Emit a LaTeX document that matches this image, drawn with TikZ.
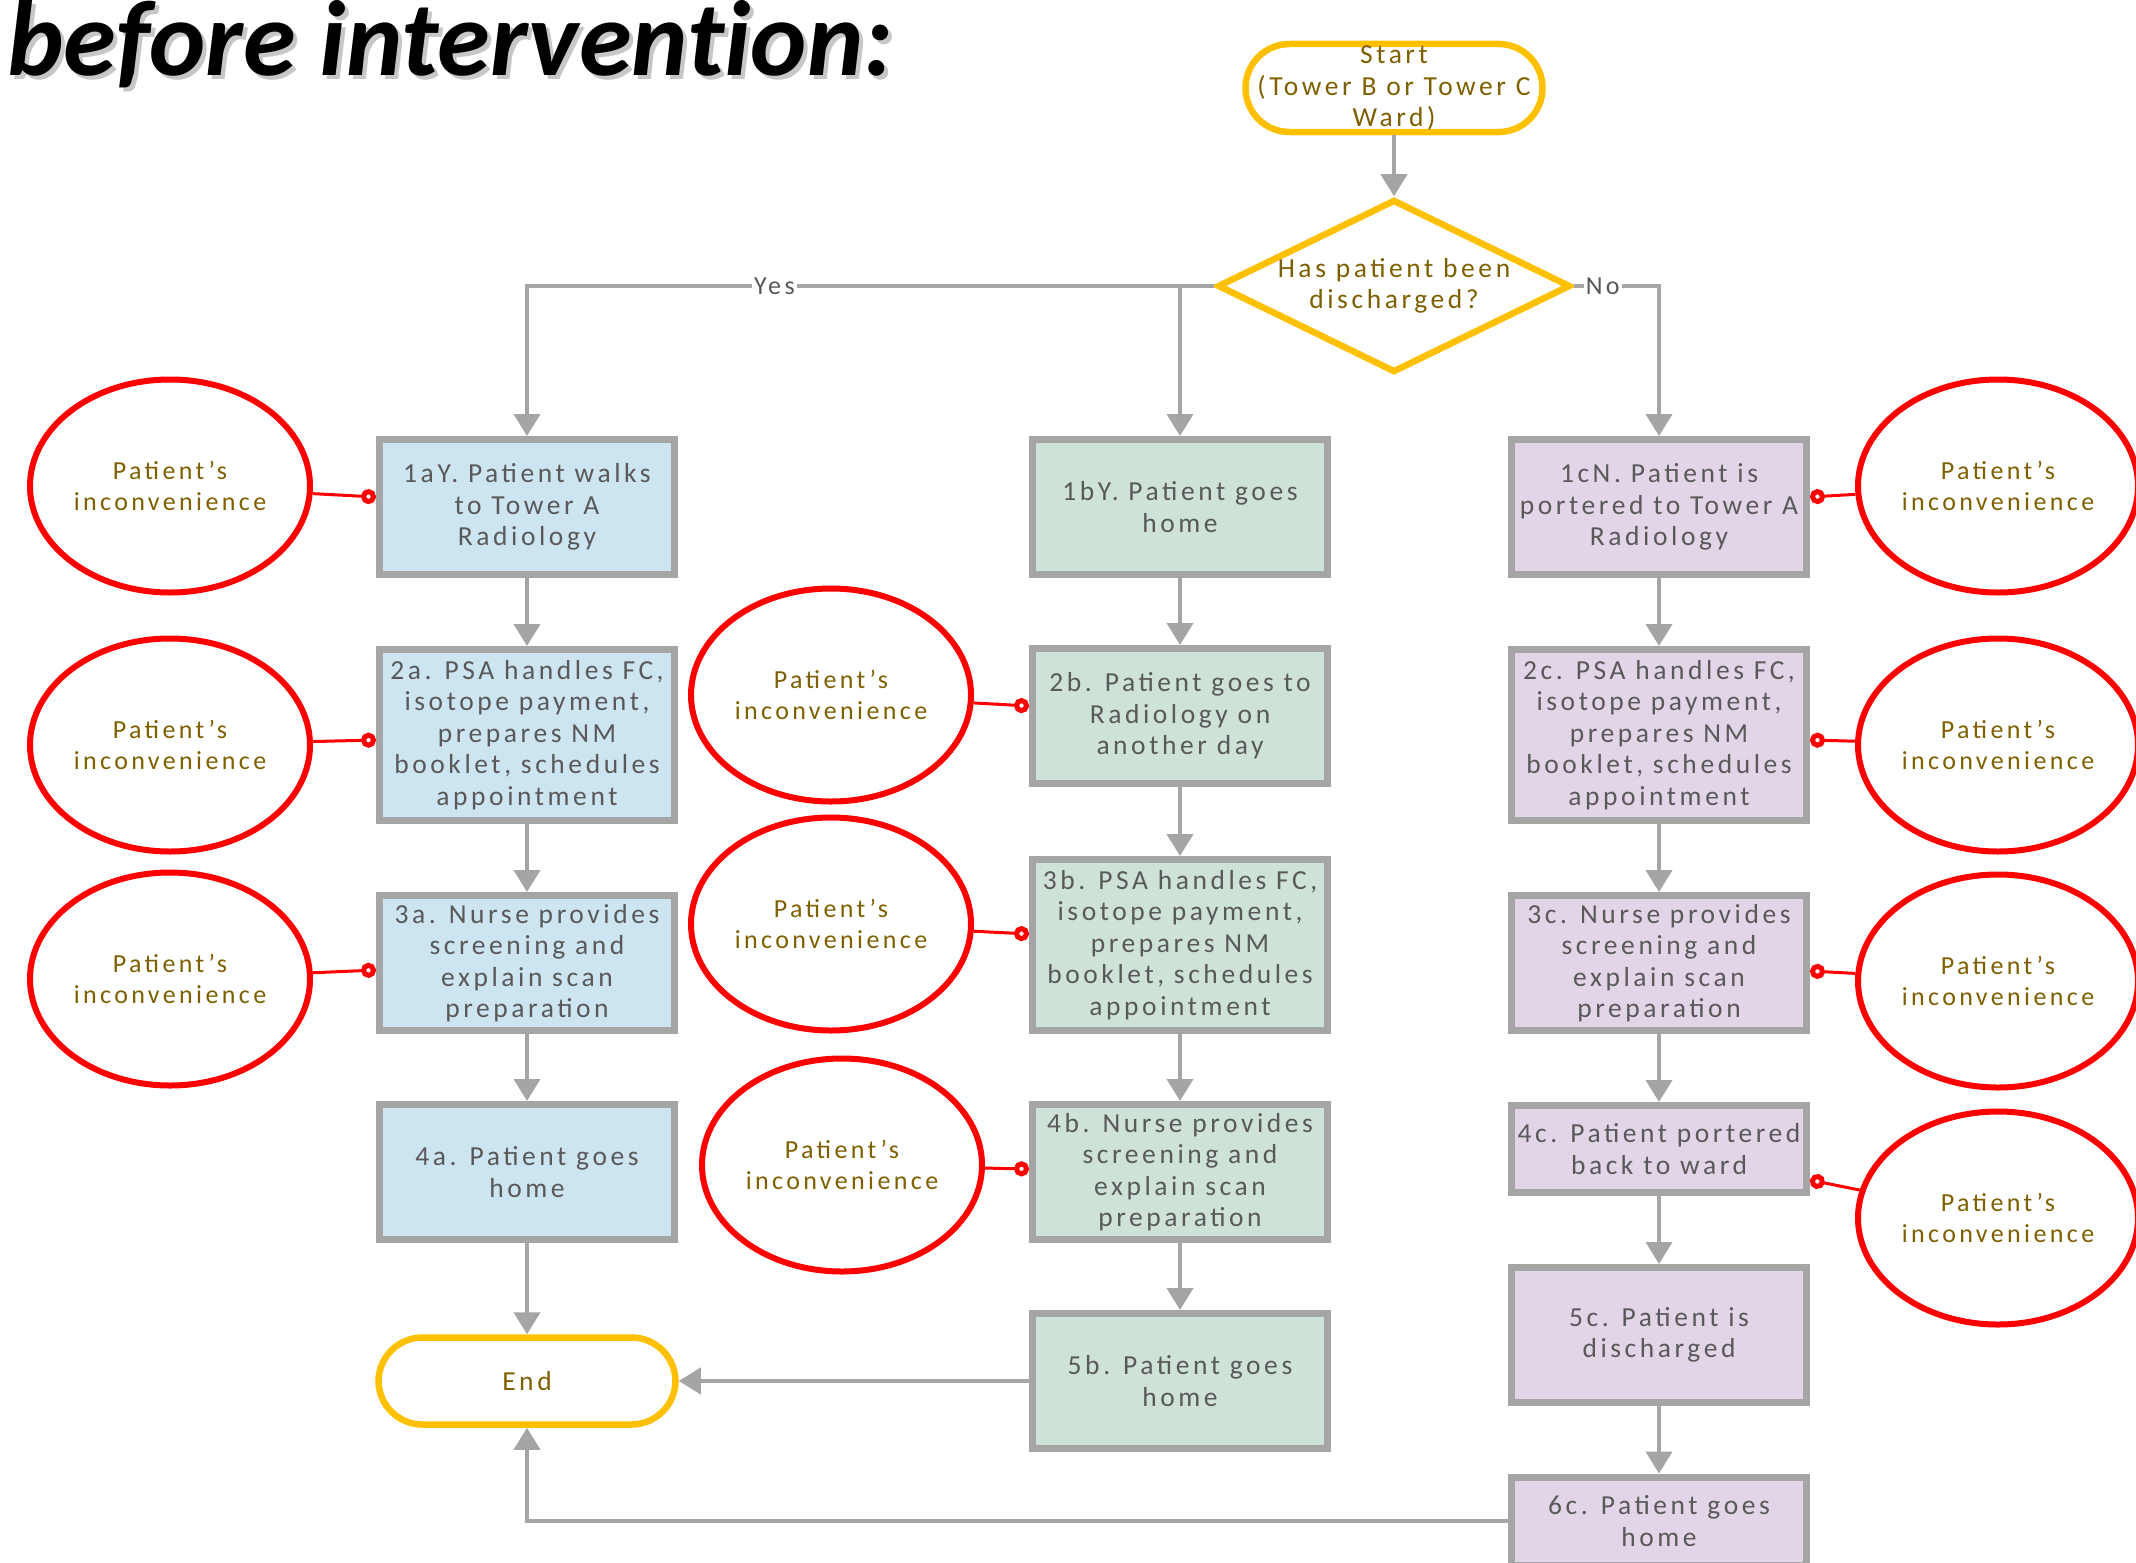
\documentclass[tikz,border=0pt]{standalone}
\usepackage{fontspec}
\setmainfont{Carlito}
\usetikzlibrary{arrows.meta,shapes.geometric}
\definecolor{boxgray}{RGB}{165,165,165}
\definecolor{txtgray}{RGB}{89,89,89}
\definecolor{riskolive}{RGB}{127,96,0}
\definecolor{gold}{RGB}{255,192,0}
\definecolor{fillA}{RGB}{205,228,241}
\definecolor{fillB}{RGB}{206,226,216}
\definecolor{fillC}{RGB}{226,213,231}
\newcommand{\boxfont}{\fontsize{27.5}{31.5}\selectfont\addfontfeatures{LetterSpace=13}}
\newcommand{\inconfont}{\fontsize{26}{31.5}\selectfont\addfontfeatures{LetterSpace=13}}
\tikzset{
  ttl/.style={font=\fontsize{107}{112}\selectfont\bfseries\itshape\addfontfeatures{Ligatures=NoCommon}, inner sep=0pt},
  stepbox/.style={draw=boxgray, line width=7pt, minimum width=295pt, minimum height=135pt,
    align=center, text=txtgray, font=\boxfont, inner sep=0pt},
  term/.style={rectangle, rounded corners=44pt, draw=gold, line width=6.5pt, minimum width=297pt,
    minimum height=88pt, align=center, text=riskolive, font=\boxfont, inner sep=0pt},
  ask/.style={diamond, aspect=2, draw=gold, line width=6.5pt, minimum width=353pt,
    minimum height=173pt, align=center, text=riskolive, font=\boxfont, inner sep=0pt},
  incon/.style={ellipse, draw=red, line width=6pt, minimum width=280pt, minimum height=213pt,
    align=center, text=riskolive, font=\inconfont, inner sep=0pt},
  flow/.style={draw=boxgray, line width=4pt, -{Triangle[length=22pt,width=26pt]}},
  risk/.style={draw=red, line width=3pt, -{Circle[length=15pt,fill=white,line width=5pt]}},
  lbl/.style={fill=white, text=txtgray, font=\inconfont, inner sep=2pt}
}
\begin{document}
\begin{tikzpicture}[x=1pt,y=-1pt]
  \fill[white] (0,0) rectangle (2136,1563);
  \useasboundingbox (0,0) rectangle (2136,1563);
  \node[ttl, text=black!22, anchor=base west] (ttlshade) at (11,80) {before intervention:};
  \node[ttl, anchor=base west] (ttl) at (7,76) {before intervention:};

  \node[term] (start) at (1394,88) {Start\\(Tower B or Tower C\\Ward)};
  \node[ask] (dec) at (1394,286) {Has patient been\\discharged?};

  % discharged, walks over
  \node[stepbox, fill=fillA] (a1) at (527,507) {1aY. Patient walks\\to Tower A\\Radiology};
  \node[stepbox, fill=fillA, minimum height=171pt] (a2) at (527,735) {2a. PSA handles FC,\\isotope payment,\\prepares NM\\booklet, schedules\\appointment};
  \node[stepbox, fill=fillA] (a3) at (527,963) {3a. Nurse provides\\screening and\\explain scan\\preparation};
  \node[stepbox, fill=fillA] (a4) at (527,1172) {4a. Patient goes\\home};
  \node[term, minimum height=87pt] (endn) at (527,1381) {End};

  % discharged, comes back another day
  \node[stepbox, fill=fillB] (b1) at (1180,507) {1bY. Patient goes\\home};
  \node[stepbox, fill=fillB] (b2) at (1180,716) {2b. Patient goes to\\Radiology on\\another day};
  \node[stepbox, fill=fillB, minimum height=171pt] (b3) at (1180,945) {3b. PSA handles FC,\\isotope payment,\\prepares NM\\booklet, schedules\\appointment};
  \node[stepbox, fill=fillB] (b4) at (1180,1172) {4b. Nurse provides\\screening and\\explain scan\\preparation};
  \node[stepbox, fill=fillB] (b5) at (1180,1381) {5b. Patient goes\\home};

  % still on the ward
  \node[stepbox, fill=fillC] (c1) at (1659,507) {1cN. Patient is\\portered to Tower A\\Radiology};
  \node[stepbox, fill=fillC, minimum height=171pt] (c2) at (1659,735) {2c. PSA handles FC,\\isotope payment,\\prepares NM\\booklet, schedules\\appointment};
  \node[stepbox, fill=fillC] (c3) at (1659,963) {3c. Nurse provides\\screening and\\explain scan\\preparation};
  \node[stepbox, fill=fillC, minimum height=87pt] (c4) at (1659,1149) {4c. Patient portered\\back to ward};
  \node[stepbox, fill=fillC] (c5) at (1659,1335) {5c. Patient is\\discharged};
  \node[stepbox, fill=fillC, minimum height=88pt] (c6) at (1659,1521) {6c. Patient goes\\home};

  \node[incon] (l1) at (170,486) {Patient’s\\inconvenience};
  \node[incon] (l2) at (170,745) {Patient’s\\inconvenience};
  \node[incon] (l3) at (170,979) {Patient’s\\inconvenience};
  \node[incon] (m2) at (831,695) {Patient’s\\inconvenience};
  \node[incon] (m3) at (831,924) {Patient’s\\inconvenience};
  \node[incon] (m4) at (842,1165) {Patient’s\\inconvenience};
  \node[incon] (r1) at (1998,486) {Patient’s\\inconvenience};
  \node[incon] (r2) at (1998,745) {Patient’s\\inconvenience};
  \node[incon] (r3) at (1998,981) {Patient’s\\inconvenience};
  \node[incon] (r4) at (1998,1218) {Patient’s\\inconvenience};

  \draw[flow] (start) -- (dec);
  \draw[flow] (dec.west) -| node[lbl, pos=0.32] {Yes} (a1);
  \draw[flow] (dec.west -| b1) -- (b1);
  \draw[flow] (dec.east) -| node[lbl, pos=0.17] {No} (c1);
  \draw[flow] (a1) -- (a2);
  \draw[flow] (a2) -- (a3);
  \draw[flow] (a3) -- (a4);
  \draw[flow] (a4) -- (endn);
  \draw[flow] (b1) -- (b2);
  \draw[flow] (b2) -- (b3);
  \draw[flow] (b3) -- (b4);
  \draw[flow] (b4) -- (b5);
  \draw[flow] (b5) -- (endn);
  \draw[flow] (c1) -- (c2);
  \draw[flow] (c2) -- (c3);
  \draw[flow] (c3) -- (c4);
  \draw[flow] (c4) -- (c5);
  \draw[flow] (c5) -- (c6);
  \draw[flow] (c6) -| (endn);

  \draw[risk] (l1) -- ([yshift=10pt]a1.west);
  \draw[risk] (l2) -- ([yshift=-5pt]a2.west);
  \draw[risk] (l3) -- ([yshift=-7pt]a3.west);
  \draw[risk] (m2) -- ([yshift=10pt]b2.west);
  \draw[risk] (m3) -- ([yshift=11pt]b3.west);
  \draw[risk] (m4) -- ([yshift=3pt]b4.west);
  \draw[risk] (r1) -- ([yshift=10pt]c1.east);
  \draw[risk] (r2) -- ([yshift=-5pt]c2.east);
  \draw[risk] (r3) -- ([yshift=-8pt]c3.east);
  \draw[risk] (r4) -- ([yshift=-31pt]c4.east);
\end{tikzpicture}
\end{document}
